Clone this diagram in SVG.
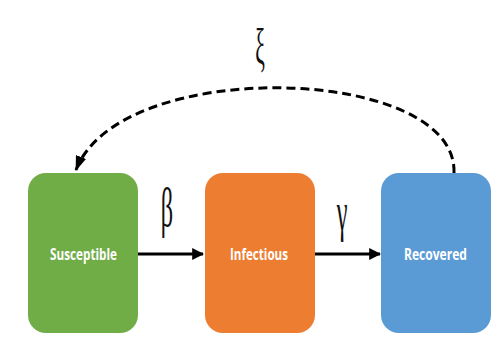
<svg xmlns="http://www.w3.org/2000/svg" width="497" height="338" viewBox="0 0 497 338">
<style>
.box{stroke:none}
.lbl{font-family:"Open Sans","Liberation Sans",sans-serif;font-weight:700;font-size:16.5px;fill:#ffffff;text-anchor:middle}
.greek{font-family:"Liberation Serif","DejaVu Serif",serif;font-size:54px;fill:#111111;text-anchor:middle}
.edge{fill:none;stroke:#000000;stroke-width:3}
.dash{stroke-dasharray:9 5}
</style>
<defs>
<marker id="ah" viewBox="0 0 10 10" refX="9" refY="5" markerWidth="4" markerHeight="4" orient="auto" markerUnits="strokeWidth">
<path d="M0,0 L10,5 L0,10 z" fill="#000000"/>
</marker>
<marker id="ah2" viewBox="0 0 14 10" refX="13" refY="5" markerWidth="5" markerHeight="3.6" orient="auto" markerUnits="strokeWidth">
<path d="M0,0 L14,5 L0,10 z" fill="#000000"/>
</marker>
</defs>
<rect width="497" height="338" fill="#ffffff"/>
<g id="connectors">
<line class="edge" x1="138" y1="254" x2="203" y2="254" marker-end="url(#ah)"/>
<line class="edge" x1="315" y1="254" x2="380" y2="254" marker-end="url(#ah)"/>
<path class="edge dash" d="M454 173 C458 65 120 55 76 170" marker-end="url(#ah2)"/>
<text class="greek" transform="translate(167,226) scale(0.45,1)">β</text>
<text class="greek" transform="translate(342,230) scale(0.45,1)">γ</text>
<text class="greek" transform="translate(260,64) scale(0.4,0.92)">ξ</text>
</g>
<g id="susceptible">
<rect class="box" x="28" y="173" width="110" height="160" rx="18" fill="#70AD47"/>
<text class="lbl" x="83.5" y="260" textLength="67" lengthAdjust="spacingAndGlyphs">Susceptible</text>
</g>
<g id="infectious">
<rect class="box" x="205" y="173" width="110" height="160" rx="18" fill="#ED7D31"/>
<text class="lbl" x="259" y="260" textLength="58" lengthAdjust="spacingAndGlyphs">Infectious</text>
</g>
<g id="recovered">
<rect class="box" x="381" y="173" width="110" height="160" rx="18" fill="#5B9BD5"/>
<text class="lbl" x="435.5" y="260" textLength="63" lengthAdjust="spacingAndGlyphs">Recovered</text>
</g>
</svg>
